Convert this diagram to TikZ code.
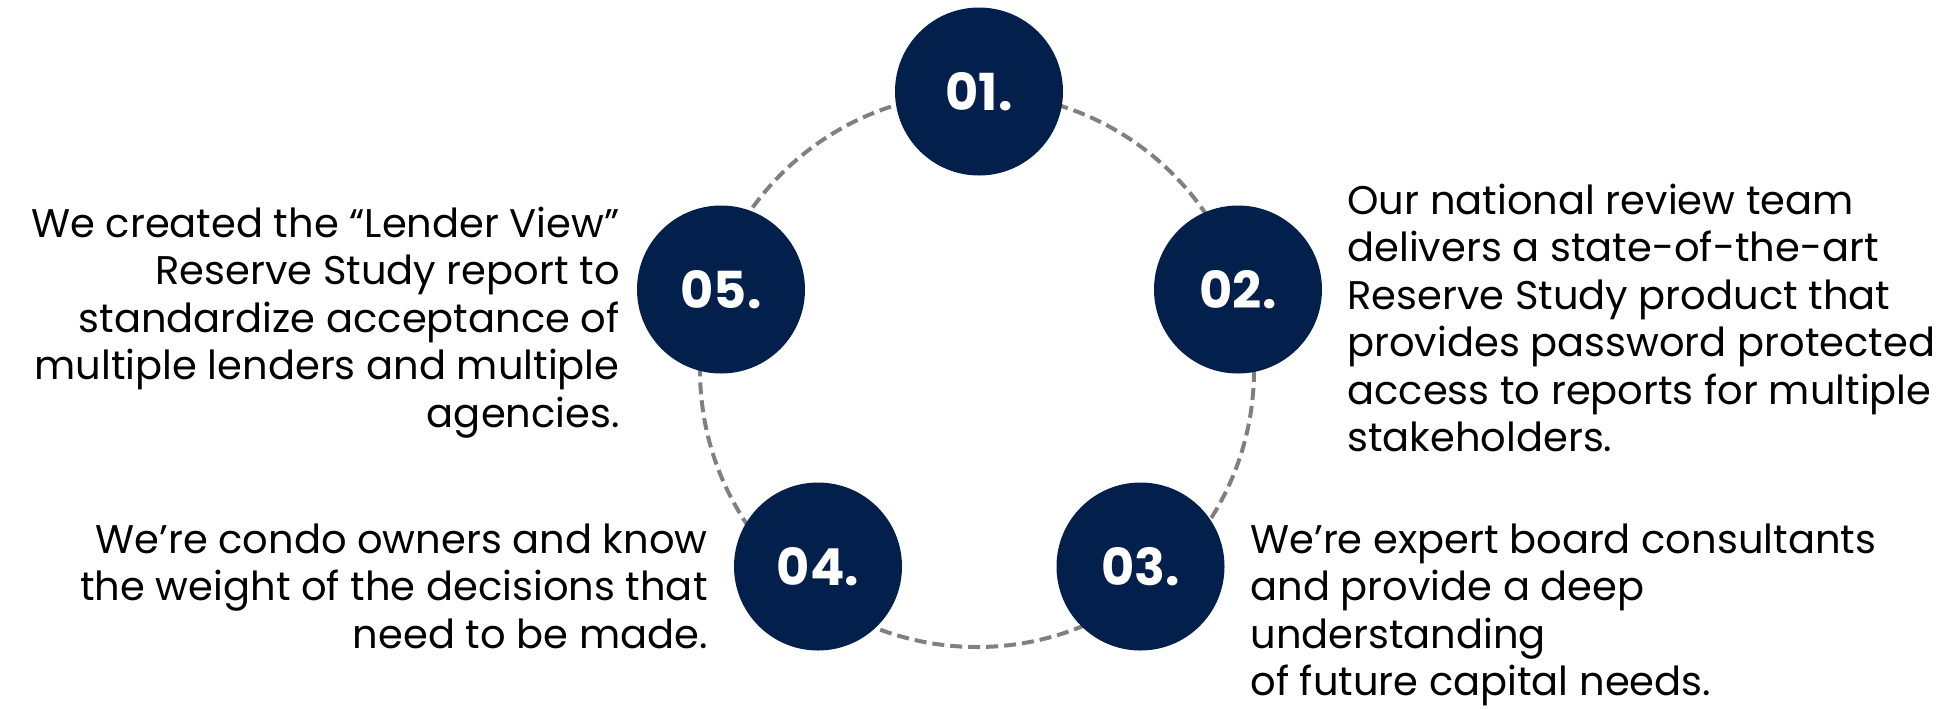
\documentclass[tikz,border=0pt]{standalone}
\usepackage{fontspec}
\setmainfont{Poppins}
\definecolor{navy}{HTML}{03204C}
\definecolor{dashgray}{HTML}{808080}
\begin{document}
\begin{tikzpicture}[x=0.5pt,y=-0.5pt,
  numcircle/.style={circle, fill=navy, minimum size=84pt, inner sep=0pt,
    text=white, font=\fontsize{25.5}{28}\selectfont\bfseries},
  desc/.style={inner sep=0pt, text=black, font=\fontsize{20}{23.75}\selectfont},
  ring/.style={draw=dashgray, line width=2pt, dash pattern=on 6pt off 3pt}]
\useasboundingbox (0,0) rectangle (1944,708);
\draw[ring] (977,370) circle [radius=277];
\node[numcircle] (n1) at (979,91.5) {01.};
\node[numcircle] (n2) at (1238,289.5) {02.};
\node[numcircle] (n3) at (1140.5,566.5) {03.};
\node[numcircle] (n4) at (818,566.5) {04.};
\node[numcircle] (n5) at (721,289.5) {05.};
\node[desc, align=left, anchor=base west] (t2) at (1347,451.5)
  {Our national review team\\delivers a state-of-the-art\\Reserve Study product that\\provides password protected\\access to reports for multiple\\stakeholders.};
\node[desc, align=right, anchor=base east] (t5) at (620,427)
  {We created the “Lender View”\\Reserve Study report to\\standardize acceptance of\\multiple lenders and multiple\\agencies.};
\node[desc, align=right, anchor=base east] (t4) at (708,648)
  {We’re condo owners and know\\the weight of the decisions that\\need to be made.};
\node[desc, align=left, anchor=base west] (t3) at (1250,695.5)
  {We’re expert board consultants\\and provide a deep\\understanding\\of future capital needs.};
\end{tikzpicture}
\end{document}
